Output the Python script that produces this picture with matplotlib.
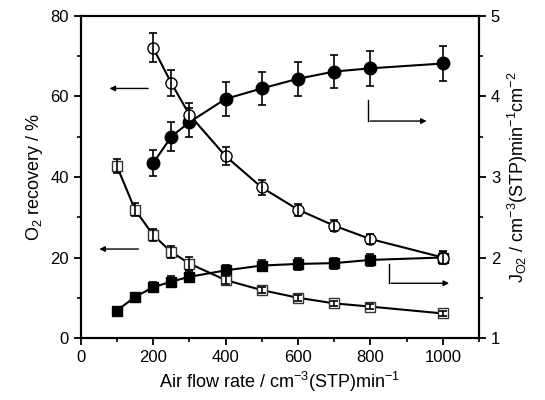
import matplotlib
matplotlib.use("Agg")
import matplotlib.pyplot as plt
from matplotlib.ticker import MultipleLocator

plt.rcParams['font.family'] = ['Liberation Sans', 'DejaVu Sans']
plt.rcParams['mathtext.default'] = 'regular'

# O2 recovery (left axis), open circles
x_oc = [200, 250, 300, 400, 500, 600, 700, 800, 1000]
rec_oc = [72.1, 63.4, 55.5, 45.2, 37.4, 31.9, 27.9, 24.6, 20.0]
rec_oc_err = [3.6, 3.3, 3.0, 2.3, 1.8, 1.5, 1.3, 1.2, 1.5]

# J_O2 (right axis), filled circles
x_fc = [200, 250, 300, 400, 500, 600, 700, 800, 1000]
j_fc = [3.17, 3.50, 3.68, 3.97, 4.10, 4.22, 4.31, 4.35, 4.41]
j_fc_err = [0.16, 0.18, 0.18, 0.21, 0.21, 0.21, 0.21, 0.22, 0.22]

# O2 recovery (left axis), open squares
x_os = [100, 150, 200, 250, 300, 400, 500, 600, 700, 800, 1000]
rec_os = [42.7, 31.9, 25.6, 21.4, 18.5, 14.4, 11.9, 10.0, 8.6, 7.8, 6.1]
rec_os_err = [1.8, 1.6, 1.5, 1.4, 1.6, 1.0, 0.8, 0.7, 0.7, 0.7, 0.6]

# J_O2 (right axis), filled squares
x_fs = [100, 150, 200, 250, 300, 400, 500, 600, 700, 800, 1000]
j_fs = [1.34, 1.51, 1.63, 1.70, 1.76, 1.84, 1.90, 1.92, 1.93, 1.97, 2.00]
j_fs_err = [0.04, 0.05, 0.06, 0.07, 0.07, 0.07, 0.07, 0.07, 0.07, 0.07, 0.07]

fig = plt.figure(figsize=(5.45, 4.0), dpi=100)
ax = fig.add_axes([0.148, 0.155, 0.731, 0.805])
ax2 = ax.twinx()
ax.set_zorder(ax2.get_zorder() + 1)
ax.patch.set_visible(False)

lw = 1.5
ebkw = dict(capsize=3, elinewidth=1.2, capthick=1.2, color='black', fmt='none', zorder=4)

# open markers: line + marker, then error bars drawn on top
ax.plot(x_oc, rec_oc, marker='o', ms=8, mfc='white', mec='black', mew=1.0,
        color='black', lw=lw, zorder=3)
ax.errorbar(x_oc, rec_oc, yerr=rec_oc_err, **ebkw)
ax.plot(x_os, rec_os, marker='s', ms=7, mfc='white', mec='#333333', mew=1.0,
        color='black', lw=lw, zorder=3)
ax.errorbar(x_os, rec_os, yerr=rec_os_err, **ebkw)

ax2.plot(x_fc, j_fc, marker='o', ms=9, mfc='black', mec='black',
         color='black', lw=lw, zorder=3)
ax2.errorbar(x_fc, j_fc, yerr=j_fc_err, **ebkw)
ax2.plot(x_fs, j_fs, marker='s', ms=7.5, mfc='black', mec='black',
         color='black', lw=lw, zorder=3)
ax2.errorbar(x_fs, j_fs, yerr=j_fs_err, **ebkw)

ax.set_xlim(0, 1100)
ax.set_ylim(0, 80)
ax2.set_ylim(1, 5)

ax.xaxis.set_major_locator(MultipleLocator(200))
ax.xaxis.set_minor_locator(MultipleLocator(100))
ax.yaxis.set_major_locator(MultipleLocator(20))
ax.yaxis.set_minor_locator(MultipleLocator(10))
ax2.yaxis.set_major_locator(MultipleLocator(1))
ax2.yaxis.set_minor_locator(MultipleLocator(0.5))

for a in (ax, ax2):
    for s in a.spines.values():
        s.set_linewidth(1.5)
    a.tick_params(which='major', direction='out', length=5, width=1.3, labelsize=12)
    a.tick_params(which='minor', direction='out', length=3, width=1.2)
ax.tick_params(top=False, which='both')

ax.set_xlabel('Air flow rate / cm$^{-3}$(STP)min$^{-1}$', fontsize=13)
ax.set_ylabel('O$_2$ recovery / %', fontsize=13)
ax2.set_ylabel('J$_{O2}$ / cm$^{-3}$(STP)min$^{-1}$cm$^{-2}$', fontsize=13)

# arrows
akw = dict(arrowstyle='-|>', color='black', lw=1.0, mutation_scale=8)
ax.annotate('', xy=(72, 62), xytext=(194, 62), arrowprops=akw)
ax.annotate('', xy=(44, 22.1), xytext=(167, 22.1), arrowprops=akw)
ax.plot([792, 792], [59.2, 53.9], color='black', lw=1.0)
ax.annotate('', xy=(963, 53.9), xytext=(792, 53.9), arrowprops=akw)
ax.plot([850, 850], [18.5, 13.6], color='black', lw=1.0)
ax.annotate('', xy=(1025, 13.6), xytext=(850, 13.6), arrowprops=akw)

fig.savefig('out.png', dpi=100)
